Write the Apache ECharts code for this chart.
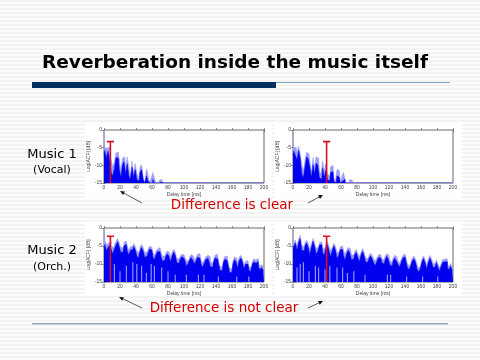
<!DOCTYPE html>
<html><head><meta charset="utf-8">
<style>html,body{margin:0;padding:0;width:480px;height:360px;overflow:hidden;background:repeating-linear-gradient(180deg,#f3f3f3 0,#f3f3f3 2px,#fdfdfd 2px,#fdfdfd 4px)}#c{width:480px;height:360px}</style>
<script src="https://cdn.jsdelivr.net/npm/echarts@6/dist/echarts.min.js"></script>
</head><body><div id="c"></div>
<script>
const delayMs=[0,2,4,6,8,10,12,14,16,18,20,22,24,26,28,30,32,34,36,38,40,42,44,46,48,50,52,54,56,58,60,62,64,66,68,70,72,74,76,78,80,82,84,86,88,90,92,94,96,98,100,102,104,106,108,110,112,114,116,118,120,122,124,126,128,130,132,134,136,138,140,142,144,146,148,150,152,154,156,158,160,162,164,166,168,170,172,174,176,178,180,182,184,186,188,190,192,194,196,198,200];

const vocalNearPeak=[0,-5,-5.2,-4.8,-6.5,-8.5,-10.5,-9,-6.5,-6.2,-8,-11.5,-8,-7.6,-11,-7.6,-10.5,-13,-8.8,-12,-9.5,-12,-14,-10.5,-9.8,-13.5,-15,-11,-12.5,-15,-13.5,-12,-13.5,-15,-15,-14.3,-14,-14.7,-15,-14.9,-14.9,-15,-14.9,-14.9,-15,-14.9,-15,-14.9,-15,-14.9,-15,-14.9,-14.9,-15,-14.9,-15,-14.9,-15,-14.9,-15,-14.9,-15,-15,-15,-15,-15,-15,-15,-15,-15,-15,-15,-15,-15,-15,-15,-15,-15,-15,-15,-15,-15,-15,-15,-15,-15,-15,-15,-15,-15,-15,-15,-15,-15,-15,-15,-15,-15,-15,-15,-15];
const vocalNearBody=[-7,-5.8,-8,-6,-8.5,-12,-13,-11,-7.8,-8,-11,-13.5,-10,-9,-12.5,-9.6,-13,-14,-10.5,-13.5,-11.2,-14,-14.5,-12,-11.2,-14,-15,-13,-14.5,-15,-15,-14,-15,-15,-15,-15,-14.8,-15,-15,-15,-15,-15,-15,-15,-15,-15,-15,-15,-15,-15,-15,-15,-15,-15,-15,-15,-15,-15,-15,-15,-15,-15,-15,-15,-15,-15,-15,-15,-15,-15,-15,-15,-15,-15,-15,-15,-15,-15,-15,-15,-15,-15,-15,-15,-15,-15,-15,-15,-15,-15,-15,-15,-15,-15,-15,-15,-15,-15,-15,-15,-15];
const vocalFarPeak=[0,-5,-4.9,-6.5,-4.6,-6.5,-10,-11.5,-8.5,-6.3,-6.8,-8.5,-12,-7.8,-10.5,-7.6,-8,-11.5,-12.5,-8.8,-11.5,-9.5,-12.5,-13,-10.4,-10,-13.5,-14.5,-11.2,-11.5,-15,-13.2,-12,-13.8,-15,-15,-14,-14.2,-14.9,-15,-14.9,-14.9,-15,-14.9,-15,-14.9,-14.9,-15,-14.9,-15,-15,-14.9,-15,-14.9,-15,-14.9,-15,-15,-14.9,-15,-15,-15,-15,-15,-15,-15,-15,-15,-15,-15,-15,-15,-15,-15,-15,-15,-15,-15,-15,-15,-15,-15,-15,-15,-15,-15,-15,-15,-15,-15,-15,-15,-15,-15,-15,-15,-15,-15,-15,-15,-15];
const vocalFarBody=[-7,-6,-7.2,-8.5,-5.8,-8,-12.5,-13.5,-10.5,-7.6,-8.2,-10.5,-13.5,-9.8,-12.5,-9.4,-10,-13.5,-14,-10.8,-13.5,-11.5,-14,-14.5,-12,-11.8,-14.5,-15,-13,-13.4,-15,-14.5,-14,-15,-15,-15,-14.8,-15,-15,-15,-15,-15,-15,-15,-15,-15,-15,-15,-15,-15,-15,-15,-15,-15,-15,-15,-15,-15,-15,-15,-15,-15,-15,-15,-15,-15,-15,-15,-15,-15,-15,-15,-15,-15,-15,-15,-15,-15,-15,-15,-15,-15,-15,-15,-15,-15,-15,-15,-15,-15,-15,-15,-15,-15,-15,-15,-15,-15,-15,-15,-15];

const orchNearPeak=[0,-3.4,-4.6,-4.2,-3.8,-5,-5.5,-4.6,-3.8,-2.9,-4,-5.4,-5.5,-4,-3.6,-5,-6.2,-5.2,-5,-4.3,-5,-6.4,-6.8,-5.2,-4.6,-5.4,-6.8,-6.6,-6,-5,-5.4,-6.8,-7.6,-6.4,-5.8,-5.4,-6.4,-7.8,-7.8,-7,-6.4,-6.8,-8,-6.9,-5.9,-6.6,-8.4,-8.6,-8,-7.3,-7.4,-8,-9.2,-9,-8,-7.4,-7.8,-8.8,-8.2,-7.3,-7.1,-8.6,-9.8,-9,-8,-7.6,-8,-9.4,-9.8,-8.6,-7.5,-7.3,-8.8,-10.6,-10.8,-9,-7.9,-7.8,-9.2,-11.2,-11.3,-9.4,-8,-8.4,-9.8,-8.2,-7.6,-8.4,-10.2,-9.3,-9,-10.6,-11,-9.6,-8.6,-8.8,-8.5,-9.8,-10.6,-10.2,-10.9];
const orchNearBody=[-5.6,-4.6,-6.4,-5.4,-4.8,-6,-7.2,-5.8,-4.8,-3.8,-5.2,-6.8,-6.6,-5,-4.6,-6.4,-7.6,-6.2,-6,-5.2,-6,-7.8,-8.4,-6.4,-5.4,-6.4,-8.2,-7.8,-7,-5.8,-6.2,-8,-8.8,-7.4,-6.6,-6.6,-7.8,-9.2,-9,-8,-7.2,-7.8,-9.4,-8,-6.7,-7.6,-9.6,-9.8,-8.8,-8,-8.4,-9,-10.6,-10,-8.8,-8.2,-9,-10,-9.2,-8.1,-8.4,-9.8,-11,-10,-8.8,-8.4,-9.2,-10.8,-10.8,-9.4,-8.3,-8.6,-9.8,-11.8,-11.8,-9.8,-8.7,-9,-10.2,-12.4,-12.3,-10.2,-8.8,-9.4,-11.2,-9,-8.4,-9.4,-11.4,-10.1,-10,-11.6,-12.2,-10.4,-9.4,-9.8,-9.3,-10.8,-11.6,-11,-11.8];
const orchFarPeak=[0,-4,-3.4,-5,-3,-2,-4.8,-5.2,-4,-3.4,-4.2,-5.8,-4.4,-2.9,-4,-5.6,-5.4,-4,-3.8,-5.4,-6,-4.6,-3.8,-5,-6.4,-5.4,-4.2,-5,-6.8,-6.6,-5.2,-5,-6,-7.4,-6.2,-5.4,-5.8,-7.4,-7.6,-6.6,-6,-7,-8,-6.8,-5.7,-6.8,-8.4,-8.4,-7.6,-7,-7.6,-8.6,-9.2,-8.2,-7.4,-7.4,-8.4,-9,-8,-7.1,-7.6,-9,-9.6,-8.4,-7.6,-8,-9,-9.8,-8.8,-7.7,-7.2,-8,-9.8,-10.6,-9.8,-8.4,-7.8,-8.4,-10,-11.2,-10.6,-8.8,-7.7,-8.6,-10.2,-8.8,-7.6,-8.4,-9.8,-10,-8.8,-9.8,-11,-10,-8.8,-8.6,-8.6,-10,-10.6,-9.8,-10.8];
const orchFarBody=[-5.6,-5,-4.2,-6.2,-4,-3,-6.2,-6.4,-5,-4.2,-5.4,-7.4,-5.4,-3.7,-5.2,-7.2,-6.6,-4.8,-4.6,-6.8,-7.6,-5.6,-4.6,-6.4,-8,-6.4,-5,-6.2,-8.4,-7.8,-6,-6,-7.6,-9,-7.2,-6.2,-7,-8.8,-8.6,-7.4,-6.8,-8.2,-9.4,-7.6,-6.5,-7.8,-9.6,-9.4,-8.4,-7.8,-8.6,-9.8,-10.4,-9.2,-8.2,-8.4,-9.6,-10,-9,-7.9,-8.6,-10.2,-10.6,-9.4,-8.4,-9,-10,-10.8,-9.8,-8.5,-8,-9,-11,-11.6,-10.6,-9.2,-8.6,-9.4,-11.4,-12.2,-11.4,-9.6,-8.5,-9.6,-11.4,-9.8,-8.4,-9.4,-11,-10.8,-9.6,-10.8,-12,-10.8,-9.6,-9.4,-9.4,-11,-11.6,-10.6,-11.8];

const orchNearGapMs=[13,20,28,36,41,47,53,59,63,72,80,89,103,118,125,143,166,181];
const orchNearGapTop=[-10,-12,-10.5,-9.5,-10,-10.5,-12.5,-10,-10.5,-11,-12,-13,-13,-13,-13,-13.5,-13.5,-13.5];
const orchFarGapMs=[5,9,13,20,28,32,40,46,55,62,68,76,90,118,122,142,162,181];
const orchFarGapTop=[-11,-10,-9.5,-12,-10.5,-11,-11.5,-10.5,-11,-11,-12.5,-12,-13,-13,-13,-13.5,-13.5,-13.5];

const markerNearMs=8, markerFarMs=42;
const markerCapMs=4.5;
const markerVocal=-3.3, markerOrch=-2.3;

const panels=[
 {left:104,top:130,height:53,peak:vocalNearPeak,body:vocalNearBody,gapMs:[],gapTop:[],mMs:markerNearMs,mTop:markerVocal},
 {left:293,top:130,height:53,peak:vocalFarPeak,body:vocalFarBody,gapMs:[],gapTop:[],mMs:markerFarMs,mTop:markerVocal},
 {left:104,top:228,height:54,peak:orchNearPeak,body:orchNearBody,gapMs:orchNearGapMs,gapTop:orchNearGapTop,mMs:markerNearMs,mTop:markerOrch},
 {left:293,top:228,height:54,peak:orchFarPeak,body:orchFarBody,gapMs:orchFarGapMs,gapTop:orchFarGapTop,mMs:markerFarMs,mTop:markerOrch}
];
const lf='Liberation Sans';
const frame={lineStyle:{color:'#666',width:1}};
const tick={show:true,inside:true,length:2,lineStyle:{color:'#666',width:.7}};
const grid=[],xAxis=[],yAxis=[],series=[];
panels.forEach((p,i)=>{
 grid.push({left:p.left,top:p.top,width:160,height:p.height,show:true,backgroundColor:'#fff',borderColor:'#666',borderWidth:1,z:1});
 const ax={gridIndex:i,type:'value',min:0,max:200,interval:20,axisLine:frame,axisTick:tick,splitLine:{show:false}};
 xAxis.push({...ax,position:'bottom',name:'Delay time [ms]',nameLocation:'middle',nameGap:9,nameTextStyle:{fontSize:5,color:'#444',fontFamily:lf},axisLabel:{fontSize:5,color:'#444',margin:2,fontFamily:lf,hideOverlap:false}});
 xAxis.push({...ax,position:'top',axisLabel:{show:false}});
 const ay={gridIndex:i,type:'value',min:-15,max:0,interval:5,axisLine:frame,axisTick:tick,splitLine:{show:false}};
 yAxis.push({...ay,position:'left',name:'Log|ACF| [dB]',nameLocation:'middle',nameGap:10,nameRotate:90,nameTextStyle:{fontSize:5,color:'#444',fontFamily:lf},axisLabel:{fontSize:5,color:'#444',margin:2,fontFamily:lf}});
 yAxis.push({...ay,position:'right',axisLabel:{show:false}});
 const xi=i*2, yi=i*2;
 const base={type:'line',xAxisIndex:xi,yAxisIndex:yi,symbol:'none',silent:true,animation:false,clip:true};
 series.push({...base,z:3,step:'middle',data:delayMs.map((d,k)=>[d,p.peak[k]]),lineStyle:{color:'#9a9aff',width:.5},areaStyle:{color:'#9a9aff',opacity:1,origin:'start'}});
 series.push({...base,z:4,step:'middle',data:delayMs.map((d,k)=>[d,p.body[k]]),lineStyle:{color:'#0000ee',width:.5},areaStyle:{color:'#0000ee',opacity:1,origin:'start'}});
 if(p.gapMs.length){
  const g=[];p.gapMs.forEach((m,k)=>{g.push([m,-15],[m,p.gapTop[k]],[m,null]);});
  series.push({...base,z:5,connectNulls:false,data:g,lineStyle:{color:'#8f8fff',width:1.2}});
 }
 series.push({...base,z:6,data:[[p.mMs,-15],[p.mMs,p.mTop],[p.mMs-markerCapMs,p.mTop],[p.mMs+markerCapMs,p.mTop]],lineStyle:{color:'#d8101c',width:1.6}});
});
function txt(x,y,t,size,color,weight,font){return {type:'text',x:x,y:y,z:20,silent:true,style:{text:t,fontSize:size,fill:color,fontWeight:weight||'normal',fontFamily:font||'DejaVu Sans',textAlign:'center',textVerticalAlign:'middle'}};}
function rect(x,y,w,h,c,z){return {type:'rect',x:x,y:y,z:z==null?20:z,silent:true,shape:{x:0,y:0,width:w,height:h},style:{fill:c}};}
function arrow(x1,y1,x2,y2){
 const a=Math.atan2(y2-y1,x2-x1),L=4.5,W=2;
 const bx=x2-L*Math.cos(a),by=y2-L*Math.sin(a),nx=-Math.sin(a)*W,ny=Math.cos(a)*W;
 return [{type:'line',z:20,silent:true,shape:{x1,y1,x2:bx,y2:by},style:{stroke:'#333',lineWidth:.8}},
 {type:'polygon',z:20,silent:true,shape:{points:[[x2,y2],[bx+nx,by+ny],[bx-nx,by-ny]]},style:{fill:'#111'}}];
}
const elements=[
 rect(85,124,187,74,'#fff',-5),rect(274,124,188,74,'#fff',-5),
 rect(85,221,187,75,'#fff',-5),rect(274,221,188,75,'#fff',-5),
 txt(235,63,'Reverberation inside the music itself',18.5,'#000','bold'),
 rect(32,82,244,6,'#00305f'),rect(276,82,174,1,'#7f9fc0'),
 rect(32,323,416,1.5,'#8fa5bd'),
 txt(52,155,'Music 1',13,'#000'),txt(52,170,'(Vocal)',11,'#000'),
 txt(52,251,'Music 2',13,'#000'),txt(52,267,'(Orch.)',11,'#000'),
 txt(232,205,'Difference is clear',13.5,'#d40000'),
 txt(224,308,'Difference is not clear',13.5,'#d40000'),
 ...arrow(142,203,120,191),...arrow(308,203,323,195),...arrow(142,308,119,297),...arrow(308,308,323,301)
];
const chart=echarts.init(document.getElementById('c'),null,{renderer:'canvas'});
chart.setOption({animation:false,backgroundColor:'transparent',grid,xAxis,yAxis,series,graphic:{elements}});
</script></body></html>
